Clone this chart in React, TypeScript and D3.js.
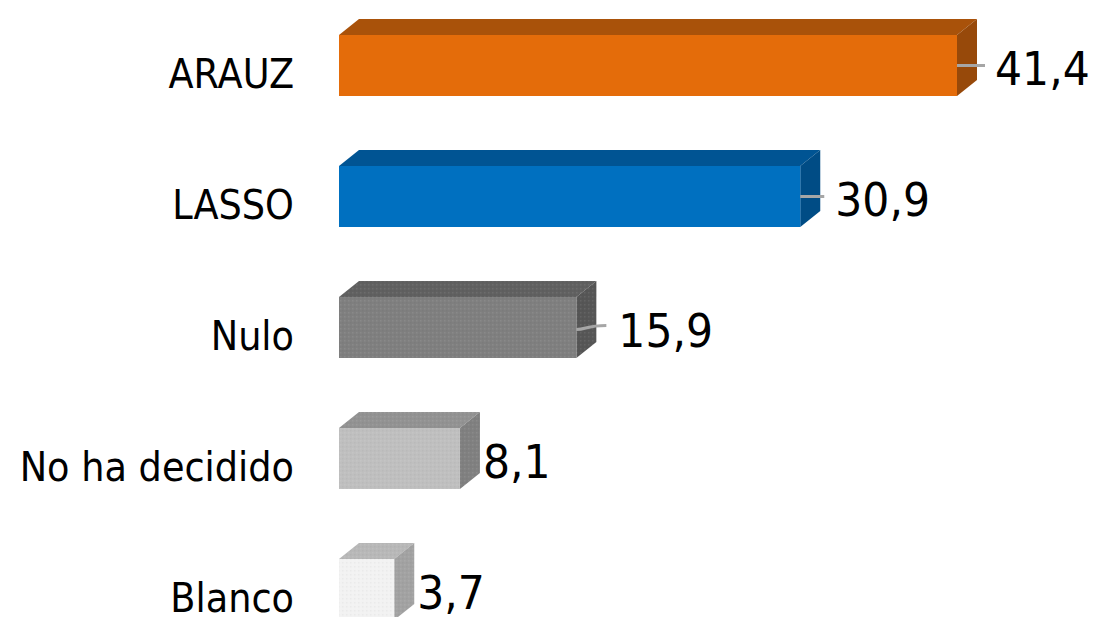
import React, { useEffect, useRef } from "react";
import * as d3 from "d3";

const categories = ["ARAUZ", "LASSO", "Nulo", "No ha decidido", "Blanco"];
const values = [41.4, 30.9, 15.9, 8.1, 3.7];
const frontColors = ["#E46C0A", "#0070C0", "#7F7F7F", "#BFBFBF", "#F2F2F2"];
const topColors = ["#A9520A", "#005493", "#606060", "#929292", "#B8B8B8"];
const sideColors = ["#97490A", "#004C85", "#565656", "#808080", "#A2A2A2"];
const textured = [false, false, true, true, true];

// leader lines: length past the bar and how much they climb, 0 length = none
const leaderEnd = [28, 24, 30, 0, 0];
const leaderRise = [0, 0, 4, 0, 0];
const labelGap = [38, 35, 42, 23, 23];

const width = 1099;
const height = 617;
const depthX = 20;
const depthY = 16;

const x = d3.scaleLinear().domain([0, 41.4]).range([339, 957]);
const y = d3
  .scaleBand()
  .domain(categories)
  .range([35, 620])
  .paddingInner(70 / 131)
  .paddingOuter(0);

const fontFamily = "Tahoma, 'DejaVu Sans', sans-serif";

export default function App() {
  const axisRef = useRef<SVGGElement>(null);
  const labelsRef = useRef<SVGGElement>(null);

  useEffect(() => {
    const axis = d3.select(axisRef.current);
    axis.call(d3.axisLeft(y).tickSize(0).tickPadding(0) as any);
    axis.select(".domain").remove();
    axis
      .selectAll("text")
      .attr("font-family", fontFamily)
      .attr("font-size", 40)
      .attr("fill", "#000")
      .attr("dy", 22)
      .attr("textLength", function () {
        return (this as SVGTextElement).getComputedTextLength() * 0.917;
      })
      .attr("lengthAdjust", "spacingAndGlyphs");

    // Tahoma digits are narrower than DejaVu's
    d3.select(labelsRef.current)
      .selectAll("text")
      .attr("textLength", function () {
        return (this as SVGTextElement).getComputedTextLength() * 0.925;
      })
      .attr("lengthAdjust", "spacingAndGlyphs");
  }, []);

  return (
    <svg
      width={width}
      height={height}
      style={{ position: "absolute", left: 0, top: 0, background: "#fff" }}
    >
      <defs>
        <pattern id="dots" width={4} height={4} patternUnits="userSpaceOnUse">
          <rect x={0} y={0} width={1.5} height={1.5} fill="#fff" opacity={0.08} />
          <rect x={2} y={2} width={1.5} height={1.5} fill="#000" opacity={0.03} />
        </pattern>
      </defs>
      {categories.map((c, i) => {
        const x0 = x(0);
        const x1 = x(values[i]);
        const y0 = y(c) as number;
        const y1 = y0 + y.bandwidth();
        const top = `${x0},${y0} ${x0 + depthX},${y0 - depthY} ${x1 + depthX},${y0 - depthY} ${x1},${y0}`;
        const side = `${x1},${y0} ${x1 + depthX},${y0 - depthY} ${x1 + depthX},${y1 - depthY} ${x1},${y1}`;
        const midY = y0 + y.bandwidth() / 2;
        return (
          <g key={c}>
            <polygon points={top} fill={topColors[i]} />
            <polygon points={side} fill={sideColors[i]} />
            <rect x={x0} y={y0} width={x1 - x0} height={y1 - y0} fill={frontColors[i]} />
            {textured[i] && (
              <g>
                <polygon points={top} fill="url(#dots)" />
                <polygon points={side} fill="url(#dots)" />
                <rect x={x0} y={y0} width={x1 - x0} height={y1 - y0} fill="url(#dots)" />
              </g>
            )}
            {leaderEnd[i] > 0 && (
              <path
                d={`M${x1},${midY + leaderRise[i] * 0.5}C${x1 + 10},${midY + leaderRise[i] * 0.5} ${x1 + 10},${midY - leaderRise[i] * 0.5} ${x1 + leaderEnd[i]},${midY - leaderRise[i] * 0.5}`}
                fill="none"
                stroke="#A6A6A6"
                strokeWidth={3}
              />
            )}
          </g>
        );
      })}
      <g ref={labelsRef}>
        {categories.map((c, i) => (
          <text
            key={c}
            x={x(values[i]) + labelGap[i]}
            y={(y(c) as number) + y.bandwidth() / 2 + 19}
            fontFamily={fontFamily}
            fontSize={46}
            fill="#000"
          >
            {String(values[i]).replace(".", ",")}
          </text>
        ))}
      </g>
      <g ref={axisRef} transform="translate(294,0)" />
    </svg>
  );
}
